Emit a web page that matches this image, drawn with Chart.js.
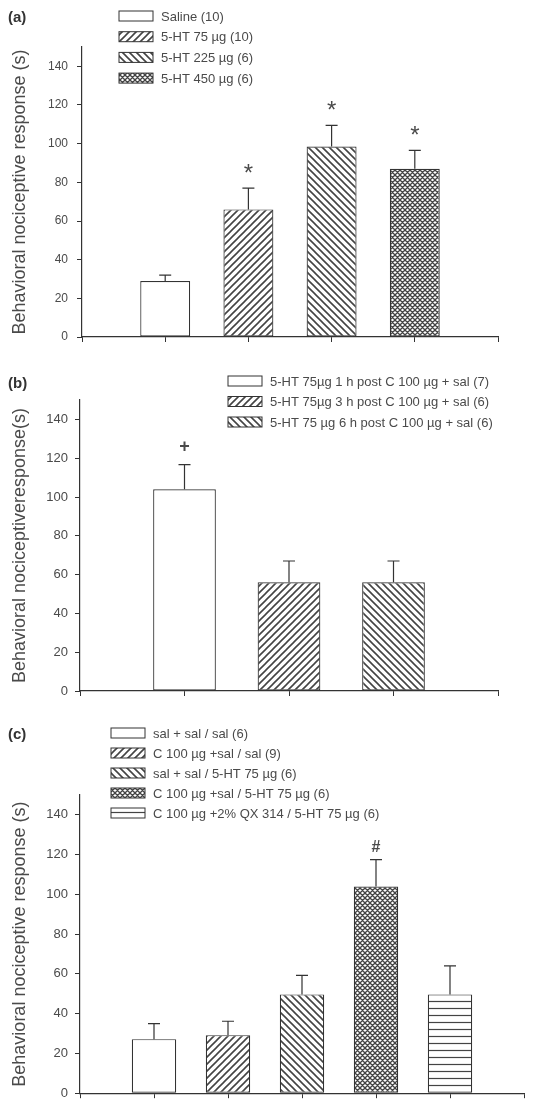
<!DOCTYPE html>
<html>
<head>
<meta charset="utf-8">
<script src="https://cdn.jsdelivr.net/npm/chart.js@4.4.0/dist/chart.umd.min.js"></script>
<style>
body { margin: 0; background: #fff; }
.panel { position: absolute; left: 0; width: 533px; }
</style>
</head>
<body>
<div class="panel" style="top:0;height:355px"><canvas id="chartA"></canvas></div>
<div class="panel" style="top:355px;height:363px"><canvas id="chartB"></canvas></div>
<div class="panel" style="top:718px;height:390px"><canvas id="chartC"></canvas></div>
<script>
// panel (a)
const groupsA = ['Saline (10)', '5-HT 75 µg (10)', '5-HT 225 µg (6)', '5-HT 450 µg (6)'];
const meansA = [29, 66, 98.5, 87];
const semA = [3, 11, 11, 9.5];
const marksA = ['', '*', '*', '*'];

// panel (b)
const groupsB = ['5-HT 75µg 1 h post C 100 µg + sal (7)', '5-HT 75µg 3 h post C 100 µg + sal (6)', '5-HT 75 µg 6 h post C 100 µg + sal (6)'];
const meansB = [104, 56, 56];
const semB = [12.7, 11, 11];
const marksB = ['+', '', ''];

// panel (c)
const groupsC = ['sal + sal / sal (6)', 'C 100 µg +sal / sal (9)', 'sal + sal / 5-HT 75 µg (6)', 'C 100 µg +sal / 5-HT 75 µg (6)', 'C 100 µg +2% QX 314 / 5-HT 75 µg (6)'];
const meansC = [27.2, 29.2, 49.7, 104, 49.7];
const semC = [7.8, 7, 9.6, 13.5, 14.3];
const marksC = ['', '', '', '#', ''];

const yTicks = [0, 20, 40, 60, 80, 100, 120, 140];

const INK = '#333';
const HATCH = '#444';
const TEXT = '#4a4a4a';
const FONT = "'Liberation Sans', Arial, sans-serif";

function makePattern(kind) {
    if (kind === 'none') return '#fff';
    let s = 7;
    if (kind === 'cross') s = 5;
    const c = document.createElement('canvas');
    c.width = s;
    c.height = s;
    const g = c.getContext('2d');
    g.fillStyle = '#fff';
    g.fillRect(0, 0, s, s);
    g.strokeStyle = HATCH;
    g.lineWidth = kind === 'cross' ? 1.35 : 1.6;
    g.beginPath();
    if (kind === 'fwd' || kind === 'cross') {
        g.moveTo(-1, s + 1); g.lineTo(s + 1, -1);
        g.moveTo(-1, 1); g.lineTo(1, -1);
        g.moveTo(s - 1, s + 1); g.lineTo(s + 1, s - 1);
    }
    if (kind === 'back' || kind === 'cross') {
        g.moveTo(-1, -1); g.lineTo(s + 1, s + 1);
        g.moveTo(s - 1, -1); g.lineTo(s + 1, 1);
        g.moveTo(-1, s - 1); g.lineTo(1, s + 1);
    }
    if (kind === 'horiz') {
        g.lineWidth = 1.2;
        g.moveTo(0, s / 2); g.lineTo(s, s / 2);
    }
    g.stroke();
    return g.createPattern(c, 'repeat');
}

function extras(p) {
    return {
        id: 'extras',
        afterDatasetsDraw(chart) {
            const ctx = chart.ctx;
            const ys = chart.scales.y;
            const meta = chart.getDatasetMeta(0);
            ctx.save();
            ctx.strokeStyle = INK;
            ctx.lineWidth = 1.2;
            p.means.forEach((m, i) => {
                const x = meta.data[i + 1].x;
                const y0 = ys.getPixelForValue(m);
                const y1 = ys.getPixelForValue(m + p.sem[i]);
                ctx.beginPath();
                ctx.moveTo(x, y0);
                ctx.lineTo(x, y1);
                ctx.moveTo(x - 6, y1);
                ctx.lineTo(x + 6, y1);
                ctx.stroke();
                if (p.marks[i]) {
                    ctx.fillStyle = TEXT;
                    ctx.font = p.markFont;
                    ctx.textAlign = 'center';
                    ctx.textBaseline = 'alphabetic';
                    ctx.fillText(p.marks[i], x, y1 - p.markGap);
                }
            });
            ctx.restore();
        },
        afterDraw(chart) {
            const ctx = chart.ctx;
            ctx.save();
            ctx.fillStyle = '#333';
            ctx.font = 'bold 15px ' + FONT;
            ctx.textBaseline = 'middle';
            ctx.textAlign = 'left';
            ctx.fillText(p.tag, 8, p.tagY);
            ctx.font = '13px ' + FONT;
            p.groups.forEach((name, i) => {
                const y = p.legY + i * p.legStep;
                ctx.fillStyle = makePattern(p.fills[i]);
                ctx.fillRect(p.legX, y - 5, 34, 10);
                ctx.strokeStyle = INK;
                ctx.lineWidth = 1;
                ctx.strokeRect(p.legX, y - 5, 34, 10);
                ctx.fillStyle = TEXT;
                ctx.fillText(name, p.legX + 42, y + 1);
            });
            ctx.restore();
        }
    };
}

function makeChart(id, p) {
    const ctx = document.getElementById(id).getContext('2d');
    return new Chart(ctx, {
        type: 'bar',
        data: {
            labels: [''].concat(p.groups, ['']),
            datasets: [{
                data: [null].concat(p.means, [null]),
                backgroundColor: [null].concat(p.fills.map(makePattern), [null]),
                borderColor: INK,
                borderWidth: 1.2,
                borderSkipped: false,
                categoryPercentage: 1,
                barPercentage: 0.6
            }]
        },
        options: {
            responsive: true,
            maintainAspectRatio: false,
            animation: false,
            events: [],
            layout: { padding: { left: 0, right: p.padRight, top: p.padTop, bottom: 0 } },
            plugins: { legend: { display: false }, tooltip: { enabled: false } },
            scales: {
                x: {
                    offset: false,
                    grid: { offset: false, drawOnChartArea: false, tickLength: 5, color: INK },
                    border: { color: INK, width: 1.2 },
                    ticks: { display: false },
                    afterFit(scale) { scale.height = p.xHeight; }
                },
                y: {
                    min: 0,
                    max: 150,
                    afterBuildTicks(scale) { scale.ticks = yTicks.map(v => ({ value: v })); },
                    grid: { drawOnChartArea: false, tickLength: 5, color: INK },
                    border: { color: INK, width: 1.2 },
                    ticks: { color: TEXT, padding: p.tickPad, font: { family: FONT, size: p.tickSize } },
                    title: {
                        display: true,
                        text: p.yTitle,
                        color: TEXT,
                        padding: { top: 9, bottom: 0 },
                        font: { family: FONT, size: 18 }
                    },
                    afterFit(scale) { scale.width = p.yWidth; }
                }
            }
        },
        plugins: [extras(p)]
    });
}

makeChart('chartA', {
    groups: groupsA, means: meansA, sem: semA, marks: marksA,
    fills: ['none', 'fwd', 'back', 'cross'],
    yTitle: 'Behavioral nociceptive response (s)',
    tag: '(a)', tagY: 18,
    legX: 119, legY: 16, legStep: 20.7,
    markFont: '24px ' + FONT, markGap: 7,
    padTop: 47, padRight: 35, yWidth: 82, xHeight: 18, tickPad: 9, tickSize: 12
});

makeChart('chartB', {
    groups: groupsB, means: meansB, sem: semB, marks: marksB,
    fills: ['none', 'fwd', 'back'],
    yTitle: 'Behavioral nociceptiveresponse(s)',
    tag: '(b)', tagY: 29,
    legX: 228, legY: 26, legStep: 20.5,
    markFont: 'bold 18px ' + FONT, markGap: 13,
    padTop: 45, padRight: 35, yWidth: 80, xHeight: 27, tickPad: 7, tickSize: 13
});

makeChart('chartC', {
    groups: groupsC, means: meansC, sem: semC, marks: marksC,
    fills: ['none', 'fwd', 'back', 'cross', 'horiz'],
    yTitle: 'Behavioral nociceptive response (s)',
    tag: '(c)', tagY: 17,
    legX: 111, legY: 15, legStep: 20,
    markFont: 'bold 16px ' + FONT, markGap: 8,
    padTop: 77, padRight: 9, yWidth: 80, xHeight: 3, tickPad: 7, tickSize: 13
});
</script>
</body>
</html>
